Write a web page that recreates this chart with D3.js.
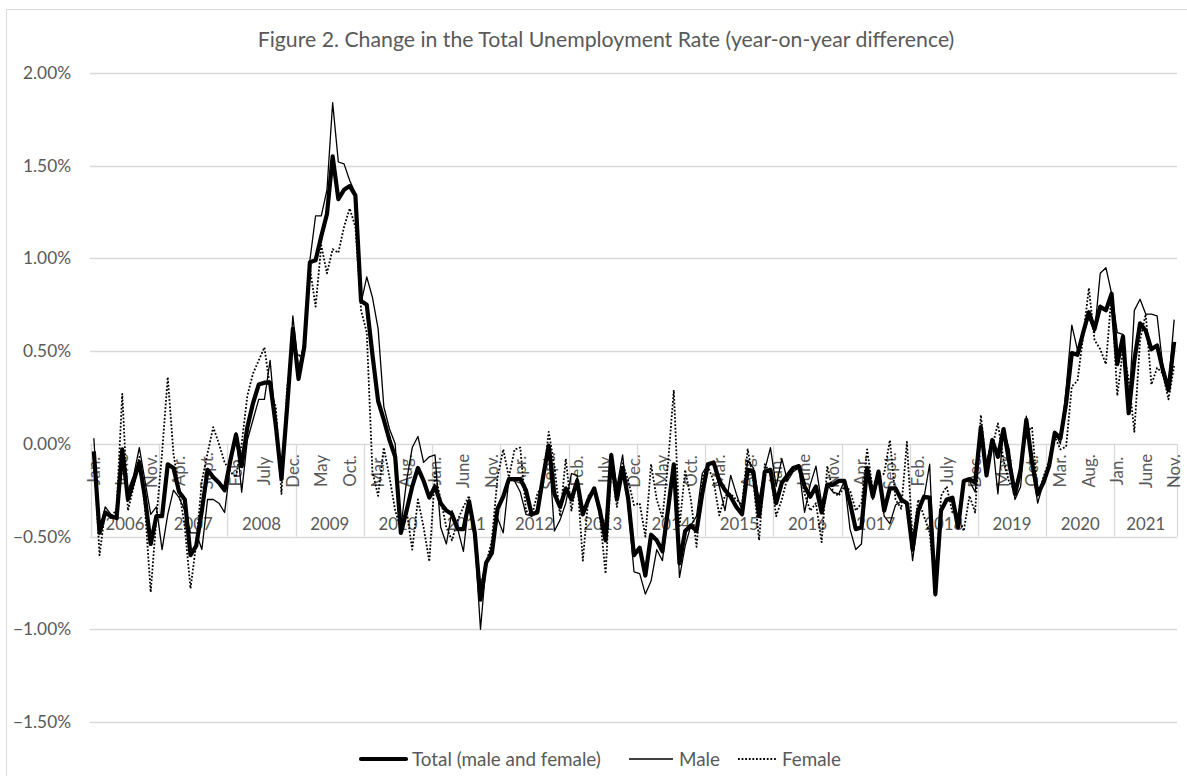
<!DOCTYPE html>
<html>
<head>
<meta charset="utf-8">
<script src="https://cdn.jsdelivr.net/npm/d3@7"></script>
<style>
  body { margin: 0; background: #fff; }
  text { font-family: Lato, "Open Sans", sans-serif; fill: #595959; }
</style>
</head>
<body>
<svg id="chart" width="1187" height="776"></svg>
<script>
// year-on-year change, percentage points, Jan 2006 .. Nov 2021 (one row per year)
var total = [
  -0.04,-0.48,-0.37,-0.39,-0.40,-0.03,-0.30,-0.20,-0.10,-0.29,-0.54,-0.39,
  -0.39,-0.11,-0.13,-0.26,-0.30,-0.60,-0.55,-0.36,-0.14,-0.18,-0.21,-0.25,
  -0.09,0.05,-0.12,0.09,0.22,0.32,0.33,0.33,0.10,-0.19,0.20,0.62,
  0.35,0.52,0.98,0.99,1.12,1.24,1.55,1.32,1.37,1.39,1.34,0.77,
  0.75,0.48,0.23,0.13,0.02,-0.07,-0.48,-0.36,-0.23,-0.13,-0.20,-0.29,
  -0.23,-0.32,-0.36,-0.38,-0.46,-0.46,-0.31,-0.48,-0.84,-0.64,-0.59,-0.35,
  -0.285,-0.19,-0.19,-0.19,-0.25,-0.38,-0.37,-0.18,-0.01,-0.27,-0.34,-0.24,
  -0.30,-0.20,-0.38,-0.30,-0.24,-0.36,-0.52,-0.06,-0.30,-0.13,-0.30,-0.60,
  -0.56,-0.71,-0.49,-0.52,-0.58,-0.35,-0.11,-0.645,-0.47,-0.44,-0.47,-0.27,
  -0.11,-0.10,-0.20,-0.25,-0.285,-0.34,-0.38,-0.14,-0.15,-0.39,-0.15,-0.14,
  -0.32,-0.21,-0.17,-0.13,-0.12,-0.23,-0.285,-0.23,-0.37,-0.22,-0.22,-0.20,
  -0.20,-0.32,-0.46,-0.45,-0.13,-0.285,-0.15,-0.36,-0.24,-0.24,-0.30,-0.32,
  -0.57,-0.36,-0.285,-0.29,-0.81,-0.36,-0.30,-0.29,-0.45,-0.20,-0.19,-0.21,
  0.09,-0.17,0.02,-0.07,0.08,-0.10,-0.27,-0.14,0.13,-0.10,-0.27,-0.21,
  -0.12,0.06,0.03,0.22,0.49,0.48,0.60,0.71,0.62,0.74,0.72,0.81,
  0.43,0.58,0.165,0.45,0.65,0.61,0.51,0.53,0.40,0.29,0.55
];

var male = [
  0.03,-0.47,-0.34,-0.38,-0.40,-0.08,-0.25,-0.17,-0.02,-0.20,-0.38,-0.34,
  -0.57,-0.38,-0.25,-0.29,-0.36,-0.48,-0.48,-0.57,-0.30,-0.30,-0.32,-0.37,
  -0.12,0.06,-0.26,0.02,0.13,0.24,0.24,0.45,0.10,-0.15,0.20,0.69,
  0.40,0.55,0.99,1.23,1.23,1.37,1.84,1.52,1.51,1.42,1.35,0.76,
  0.90,0.79,0.62,0.20,0.08,0.00,-0.45,-0.20,-0.02,0.04,-0.10,-0.07,
  -0.06,-0.45,-0.54,-0.36,-0.46,-0.58,-0.30,-0.52,-1.00,-0.645,-0.55,-0.40,
  -0.48,-0.19,-0.20,-0.26,-0.38,-0.39,-0.35,-0.20,-0.02,-0.47,-0.41,-0.32,
  -0.16,-0.17,-0.36,-0.31,-0.24,-0.36,-0.45,-0.05,-0.23,-0.06,-0.35,-0.69,
  -0.70,-0.81,-0.74,-0.57,-0.63,-0.37,-0.11,-0.72,-0.55,-0.44,-0.39,-0.16,
  -0.11,-0.11,-0.23,-0.36,-0.17,-0.27,-0.36,-0.09,-0.13,-0.30,-0.14,-0.02,
  -0.23,-0.08,-0.20,-0.15,-0.13,-0.37,-0.22,-0.12,-0.32,-0.22,-0.26,-0.27,
  -0.20,-0.46,-0.57,-0.54,-0.15,-0.30,-0.18,-0.39,-0.43,-0.33,-0.31,-0.32,
  -0.63,-0.38,-0.29,-0.11,-0.82,-0.34,-0.31,-0.30,-0.41,-0.20,-0.20,-0.26,
  0.02,-0.10,0.03,-0.27,0.08,-0.03,-0.30,-0.23,0.15,-0.12,-0.32,-0.21,
  -0.12,0.065,0.00,0.30,0.64,0.505,0.61,0.68,0.60,0.92,0.95,0.81,
  0.60,0.59,0.18,0.72,0.78,0.70,0.70,0.69,0.42,0.31,0.67
];

var female = [
  -0.05,-0.60,-0.36,-0.40,-0.35,0.27,-0.36,-0.23,-0.07,-0.35,-0.80,-0.40,
  -0.05,0.36,-0.05,-0.25,-0.45,-0.78,-0.54,-0.20,-0.05,0.09,0.00,-0.10,
  -0.15,-0.18,0.00,0.26,0.38,0.45,0.52,0.30,0.20,-0.27,0.30,0.54,
  0.47,0.50,0.95,0.74,1.07,0.92,1.05,1.03,1.17,1.27,1.17,0.72,
  0.60,-0.15,-0.28,-0.02,-0.18,-0.36,-0.46,-0.36,-0.57,-0.30,-0.45,-0.635,
  -0.16,-0.30,-0.45,-0.52,-0.41,-0.34,-0.28,-0.52,-0.77,-0.645,-0.52,-0.18,
  -0.03,-0.18,-0.03,-0.02,-0.36,-0.39,-0.27,-0.21,0.065,-0.12,-0.39,-0.08,
  -0.36,-0.18,-0.63,-0.28,-0.24,-0.39,-0.70,-0.12,-0.34,-0.105,-0.20,-0.33,
  -0.32,-0.50,-0.11,-0.30,-0.40,-0.10,0.29,-0.45,-0.14,-0.30,-0.555,-0.18,
  -0.12,-0.20,-0.385,-0.28,-0.27,-0.30,-0.33,-0.03,-0.20,-0.52,-0.11,-0.16,
  -0.39,-0.30,-0.18,-0.13,-0.14,-0.27,-0.36,-0.32,-0.53,-0.12,-0.26,-0.28,
  -0.23,-0.25,-0.36,-0.32,-0.03,-0.25,-0.18,-0.16,0.02,-0.30,-0.35,0.01,
  -0.52,-0.30,-0.39,-0.48,-0.77,-0.28,-0.23,-0.37,-0.39,-0.47,-0.28,-0.37,
  0.155,-0.14,-0.02,0.11,-0.09,-0.21,-0.25,-0.12,0.06,0.09,-0.28,-0.18,
  -0.09,0.04,-0.03,-0.015,0.31,0.34,0.58,0.84,0.56,0.51,0.43,0.81,
  0.26,0.51,0.35,0.065,0.56,0.70,0.32,0.41,0.38,0.24,0.42
];

var years  = ["2006","2007","2008","2009","2010","2011","2012","2013","2014","2015","2016","2017","2018","2019","2020","2021"];
var months = ["Jan.","Feb.","Mar.","Apr.","May","June","July","Aug.","Sept.","Oct.","Nov.","Dec."];
var yTicks = [-1.5, -1.0, -0.5, 0, 0.5, 1.0, 1.5, 2.0];
var title  = "Figure 2. Change in the Total Unemployment Rate (year-on-year difference)";
var legendNames = ["Total (male and female)", "Male", "Female"];

var svg = d3.select("#chart");
var left = 91, right = 1177;

// size a font so the string is about as wide as in the reference
function fitSize(str, target, base) {
  var t = svg.append("text").style("font-size", base + "px").text(str);
  var w = t.node().getComputedTextLength();
  t.remove();
  return base * target / w;
}
var tickSize   = fitSize("2.00%", 48, 16);
var titleSize  = fitSize(title, 697, 20);
var catSize    = fitSize("2008", 39, 16);
var legendSize = fitSize(legendNames[0], 189, 16);

var idx = d3.range(total.length);
var x = d3.scaleBand().domain(idx).range([left, right]).padding(0);
var bw = x.bandwidth();
var y = d3.scaleLinear().domain([-1.5, 2]).range([722, 73]);

// chart frame
svg.append("rect")
  .attr("x", 6.5).attr("y", 9.5)
  .attr("width", 1200).attr("height", 800)
  .attr("fill", "#fff").attr("stroke", "#d9d9d9");

svg.append("text")
  .attr("x", 606).attr("y", 40)
  .attr("dy", "0.35em")
  .attr("text-anchor", "middle")
  .style("font-size", titleSize + "px")
  .text(title);

// gridlines + value labels
svg.append("g").selectAll("line")
  .data(yTicks).join("line")
    .attr("x1", left - 1).attr("x2", right)
    .attr("y1", d => Math.round(y(d)) + 0.5)
    .attr("y2", d => Math.round(y(d)) + 0.5)
    .attr("stroke", "#d9d9d9").attr("stroke-width", 1.3);

svg.append("g").selectAll("text")
  .data(yTicks).join("text")
    .attr("x", 71).attr("y", d => y(d))
    .attr("dy", "0.35em")
    .attr("text-anchor", "end")
    .style("font-size", tickSize + "px")
    .text(d => d3.format(".2f")(d) + "%");

// two-level category axis sitting on the zero line
var axTop = y(0), axBot = y(-0.5);
var seps = d3.range(0, total.length, 12).map(i => x(i)).concat([right]);
svg.append("g").selectAll("line")
  .data(seps).join("line")
    .attr("x1", d => Math.round(d) + 0.5).attr("x2", d => Math.round(d) + 0.5)
    .attr("y1", axTop).attr("y2", axBot)
    .attr("stroke", "#d9d9d9").attr("stroke-width", 1.3);

var monthTicks = idx.filter(i => i % 5 === 0);
svg.append("g").selectAll("text")
  .data(monthTicks).join("text")
    .attr("transform", i => `translate(${x(i) + bw / 2},471) rotate(-90)`)
    .attr("dy", "0.35em")
    .attr("text-anchor", "middle")
    .style("font-size", catSize + "px")
    .text(i => months[i % 12]);

svg.append("g").selectAll("text")
  .data(years).join("text")
    .attr("x", (d, k) => {
      var a = x(k * 12), b = k * 12 + 12 < total.length ? x(k * 12 + 12) : right;
      return (a + b) / 2;
    })
    .attr("y", 524)
    .attr("dy", "0.35em")
    .attr("text-anchor", "middle")
    .style("font-size", catSize + "px")
    .text(d => d);

// series
var line = d3.line()
  .x((d, i) => x(i) + bw / 2)
  .y(d => y(d));

var series = [
  {name: legendNames[0], values: total,  width: 4.2, dash: null},
  {name: legendNames[1], values: male,   width: 1.3, dash: null},
  {name: legendNames[2], values: female, width: 1.8, dash: "1.8 1.8"}
];

svg.append("g").selectAll("path")
  .data(series).join("path")
    .attr("d", s => line(s.values))
    .attr("fill", "none")
    .attr("stroke", "#000")
    .attr("stroke-width", s => s.width)
    .attr("stroke-dasharray", s => s.dash)
    .attr("stroke-linejoin", "round");

// legend
var legendX = [[361, 406], [629, 673], [738, 776]];
var leg = svg.append("g").selectAll("g")
  .data(series).join("g");
leg.append("line")
  .attr("x1", (s, k) => legendX[k][0]).attr("x2", (s, k) => legendX[k][1])
  .attr("y1", 759).attr("y2", 759)
  .attr("stroke", "#000")
  .attr("stroke-width", s => s.width)
  .attr("stroke-dasharray", s => s.dash)
  .attr("stroke-linecap", (s, k) => k === 0 ? "round" : "butt");
leg.append("text")
  .attr("x", (s, k) => legendX[k][1] + 6)
  .attr("y", 759)
  .attr("dy", "0.35em")
  .style("font-size", legendSize + "px")
  .text(s => s.name);
</script>
</body>
</html>
